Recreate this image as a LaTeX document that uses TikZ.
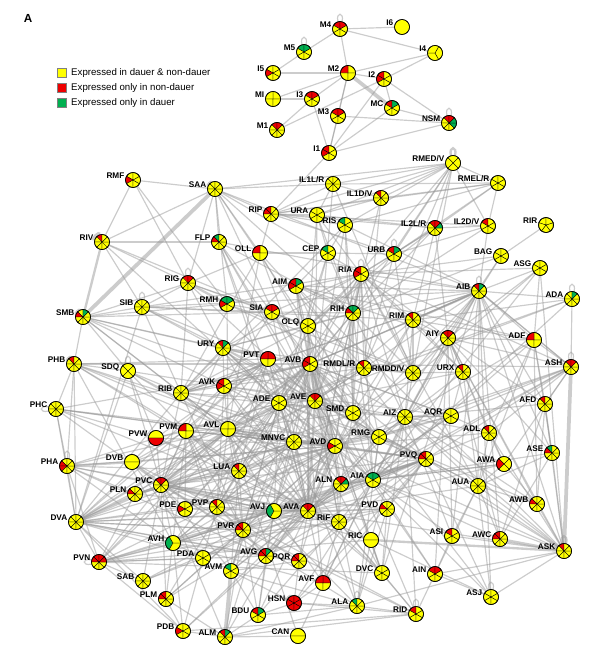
\documentclass[tikz,border=0pt]{standalone}
\usepackage{fontspec}
\setmainfont{Liberation Sans}
\usetikzlibrary{calc}
\definecolor{cY}{RGB}{255,255,0}
\definecolor{cR}{RGB}{238,0,0}
\definecolor{cG}{RGB}{0,176,80}

\pgfdeclarelayer{edges}
\pgfsetlayers{edges,main}

% name, position, label, start angle, sectors, sector colours
\newcommand{\neuron}[6]{%
  \node[cell] (#1) at (#2) {};
  \ifnum#5>1
  \foreach \col [count=\i from 0] in {#6}{
    \pgfmathsetmacro{\ang}{#4+\i*360/#5}
    \filldraw[fill=\col, draw=black, line width=0.3pt] (#1.center) -- ++(\ang:0.225cm)
      arc[start angle=\ang, delta angle=360/#5, radius=0.225cm] -- cycle;
  }
  \fi
  \draw[line width=0.5pt] (#1.center) circle[radius=0.225cm];
  \node[lbl, anchor=base east] (#1-l) at ($(#1.center)+(-8.5,-1.5)$) {#3};
}

\begin{document}
\begin{tikzpicture}[x=0.03cm, y=-0.03cm,
  cell/.style={circle, minimum size=0.45cm, inner sep=0pt, fill=cY, draw=black, line width=0.5pt},
  lbl/.style={font=\fontsize{7}{8}\selectfont\bfseries, inner sep=0pt},
  syn/.style={draw=black!40, draw opacity=0.5, line width=1pt},
  synmid/.style={syn, line width=2pt},
  synthick/.style={syn, line width=3.2pt},
  every loop/.style={min distance=3mm, looseness=6},
  keybox/.style={minimum size=0.27cm, inner sep=0pt, draw=black!50, line width=0.3pt},
  keytext/.style={font=\fontsize{8.25}{10}\selectfont, inner sep=0pt, anchor=west}
]
\useasboundingbox (0,0) rectangle (607,650);

\node[font=\fontsize{10}{12}\selectfont\bfseries, inner sep=0pt] (panel) at (28,18) {A};

% legend
\node[keybox, fill=cY] (key1) at (62,73) {};
\node[keybox, fill=cR] (key2) at (62,88) {};
\node[keybox, fill=cG] (key3) at (62,103) {};
\node[keytext] (key1-t) at (71,73) {Expressed in dauer \& non-dauer};
\node[keytext] (key2-t) at (71,88) {Expressed only in non-dauer};
\node[keytext] (key3-t) at (71,103) {Expressed only in dauer};

% pharynx
\neuron{M4}{340,29}{M4}{90}{6}{cR,cY,cY,cY,cY,cR}
\neuron{I6}{402,27}{I6}{90}{1}{cY}
\neuron{M5}{304,52}{M5}{90}{6}{cG,cY,cY,cY,cY,cG}
\neuron{I5}{273,73}{I5}{90}{6}{cY,cR,cY,cY,cY,cY}
\neuron{M2}{348,73}{M2}{0}{4}{cY,cR,cY,cY}
\neuron{I2}{384,79}{I2}{90}{6}{cR,cR,cY,cY,cY,cY}
\neuron{MI}{273,99}{MI}{0}{4}{cY,cY,cY,cY}
\neuron{I3}{312,99}{I3}{90}{6}{cR,cY,cY,cY,cY,cR}
\neuron{MC}{392,108}{MC}{90}{6}{cR,cY,cY,cY,cY,cG}
\neuron{M3}{338,116}{M3}{90}{6}{cR,cY,cY,cY,cY,cR}
\neuron{M1}{277,130}{M1}{90}{8}{cR,cY,cY,cY,cY,cY,cY,cR}
\neuron{I1}{329,153}{I1}{90}{6}{cR,cR,cY,cY,cY,cY}
\neuron{I4}{435,53}{I4}{180}{3}{cY,cY,cY}
\neuron{NSM}{449,123}{NSM}{90}{8}{cR,cY,cY,cY,cY,cG,cG,cR}

% head
\neuron{RMEDV}{453,163}{RMED/V}{45}{4}{cY,cY,cY,cY}
\neuron{RMELR}{498,183}{RMEL/R}{90}{6}{cY,cY,cY,cY,cY,cY}
\neuron{IL1LR}{333,184}{IL1L/R}{90}{8}{cY,cY,cY,cY,cY,cY,cY,cY}
\neuron{IL1DV}{381,198}{IL1D/V}{90}{8}{cR,cY,cY,cY,cY,cY,cY,cY}
\neuron{IL2LR}{435,228}{IL2L/R}{90}{8}{cR,cY,cY,cY,cY,cY,cG,cR}
\neuron{IL2DV}{488,226}{IL2D/V}{90}{6}{cR,cY,cY,cY,cY,cY}
\neuron{RIR}{546,225}{RIR}{90}{5}{cY,cY,cY,cY,cY}
\neuron{BAG}{501,256}{BAG}{90}{6}{cY,cY,cY,cY,cY,cY}
\neuron{ASG}{540,268}{ASG}{90}{6}{cY,cY,cY,cY,cY,cY}
\neuron{AIB}{479,291}{AIB}{90}{8}{cR,cY,cY,cY,cY,cY,cY,cG}
\neuron{ADA}{572,299}{ADA}{90}{8}{cY,cY,cY,cY,cY,cY,cY,cG}
\neuron{RMF}{133,180}{RMF}{90}{6}{cY,cR,cY,cY,cY,cY}
\neuron{SAA}{215,189}{SAA}{90}{8}{cY,cY,cY,cY,cY,cY,cY,cY}
\neuron{RIV}{102,242}{RIV}{90}{8}{cR,cY,cY,cY,cY,cY,cY,cY}
\neuron{RIP}{271,214}{RIP}{90}{8}{cR,cR,cY,cY,cY,cY,cY,cY}
\neuron{URA}{317,215}{URA}{90}{6}{cY,cY,cY,cY,cY,cY}
\neuron{RIS}{345,225}{RIS}{90}{6}{cG,cY,cY,cY,cY,cY}
\neuron{FLP}{219,242}{FLP}{90}{8}{cG,cR,cY,cY,cY,cY,cY,cY}
\neuron{OLL}{260,253}{OLL}{0}{4}{cY,cR,cY,cY}
\neuron{CEP}{328,253}{CEP}{90}{6}{cG,cY,cY,cY,cY,cY}
\neuron{URB}{394,254}{URB}{90}{6}{cR,cY,cY,cY,cY,cG}
\neuron{RIA}{361,274}{RIA}{90}{6}{cR,cR,cY,cY,cY,cY}
\neuron{AIM}{296,286}{AIM}{90}{6}{cR,cR,cY,cY,cY,cG}
\neuron{RMH}{227,304}{RMH}{90}{6}{cG,cR,cY,cY,cY,cG}
\neuron{SIA}{272,312}{SIA}{90}{6}{cR,cY,cY,cY,cY,cR}
\neuron{RIH}{353,313}{RIH}{90}{8}{cG,cR,cY,cY,cY,cY,cY,cG}
\neuron{RIM}{413,320}{RIM}{90}{8}{cR,cY,cY,cY,cY,cY,cY,cY}
\neuron{OLQ}{308,326}{OLQ}{90}{6}{cY,cY,cY,cY,cY,cY}
\neuron{RIG}{188,283}{RIG}{90}{8}{cR,cY,cY,cY,cY,cY,cY,cR}
\neuron{SIB}{142,307}{SIB}{90}{8}{cY,cY,cY,cY,cY,cY,cY,cY}
\neuron{SMB}{83,317}{SMB}{90}{8}{cY,cR,cY,cY,cY,cY,cY,cG}

% body
\neuron{PHB}{74,364}{PHB}{90}{8}{cR,cY,cY,cY,cY,cY,cY,cY}
\neuron{SDQ}{128,371}{SDQ}{45}{4}{cY,cY,cY,cY}
\neuron{RIB}{181,393}{RIB}{90}{8}{cY,cY,cY,cY,cY,cY,cY,cY}
\neuron{PHC}{56,409}{PHC}{90}{8}{cY,cY,cY,cY,cY,cY,cY,cY}
\neuron{URY}{223,348}{URY}{90}{8}{cR,cY,cY,cY,cY,cY,cY,cG}
\neuron{PVT}{268,359}{PVT}{0}{4}{cR,cR,cY,cY}
\neuron{AVB}{310,364}{AVB}{90}{6}{cR,cR,cY,cY,cY,cY}
\neuron{RMDLR}{364,368}{RMDL/R}{90}{8}{cR,cY,cY,cY,cY,cY,cY,cY}
\neuron{RMDDV}{413,373}{RMDD/V}{90}{8}{cY,cY,cY,cY,cY,cY,cY,cY}
\neuron{AVK}{224,386}{AVK}{90}{6}{cR,cR,cY,cY,cY,cY}
\neuron{ADE}{279,403}{ADE}{90}{6}{cY,cY,cY,cY,cY,cY}
\neuron{AVE}{315,401}{AVE}{90}{8}{cR,cY,cY,cY,cY,cY,cY,cR}
\neuron{SMD}{353,413}{SMD}{90}{6}{cY,cY,cY,cY,cY,cY}
\neuron{AIZ}{405,417}{AIZ}{90}{8}{cY,cY,cY,cY,cY,cY,cY,cY}
\neuron{AIY}{448,338}{AIY}{90}{8}{cR,cY,cY,cY,cY,cY,cY,cR}
\neuron{ADF}{534,340}{ADF}{0}{4}{cY,cR,cY,cY}
\neuron{URX}{463,372}{URX}{90}{8}{cR,cY,cY,cY,cY,cY,cY,cY}
\neuron{ASH}{571,367}{ASH}{90}{8}{cR,cY,cY,cY,cY,cY,cY,cR}
\neuron{AFD}{545,404}{AFD}{90}{8}{cR,cY,cY,cY,cY,cY,cY,cY}
\neuron{AQR}{451,416}{AQR}{90}{6}{cY,cY,cY,cY,cY,cY}
\neuron{AVL}{228,429}{AVL}{0}{4}{cY,cY,cY,cY}
\neuron{MNVC}{294,442}{MNVC}{90}{8}{cY,cY,cY,cY,cY,cY,cY,cY}
\neuron{AVD}{335,446}{AVD}{90}{6}{cY,cR,cY,cY,cY,cY}
\neuron{RMG}{379,437}{RMG}{90}{6}{cY,cY,cY,cY,cY,cY}
\neuron{ADL}{489,433}{ADL}{90}{8}{cR,cY,cY,cY,cY,cY,cY,cY}
\neuron{ASE}{552,453}{ASE}{90}{8}{cG,cR,cY,cY,cY,cY,cY,cY}
\neuron{PVM}{186,431}{PVM}{0}{4}{cY,cR,cY,cY}
\neuron{PVW}{156,438}{PVW}{0}{2}{cY,cR}
\neuron{PHA}{67,466}{PHA}{90}{8}{cY,cR,cR,cY,cY,cY,cY,cY}
\neuron{DVB}{132,462}{DVB}{0}{2}{cY,cY}
\neuron{LUA}{239,471}{LUA}{90}{8}{cR,cY,cY,cY,cY,cY,cY,cY}
\neuron{ALN}{341,484}{ALN}{90}{8}{cR,cY,cY,cY,cY,cY,cG,cR}
\neuron{AIA}{373,480}{AIA}{90}{6}{cG,cY,cY,cY,cY,cG}
\neuron{PVQ}{426,459}{PVQ}{90}{8}{cR,cR,cY,cY,cY,cY,cY,cY}
\neuron{AWA}{504,464}{AWA}{45}{4}{cY,cR,cY,cY}
\neuron{AUA}{478,486}{AUA}{90}{8}{cY,cY,cY,cY,cY,cY,cY,cY}
\neuron{PVC}{161,485}{PVC}{90}{8}{cR,cY,cY,cY,cY,cY,cY,cR}
\neuron{PLN}{135,494}{PLN}{90}{8}{cY,cR,cY,cY,cY,cY,cY,cY}
\neuron{PDE}{185,509}{PDE}{90}{6}{cY,cR,cY,cY,cY,cY}
\neuron{DVA}{76,522}{DVA}{90}{8}{cY,cY,cY,cY,cY,cY,cY,cY}
\neuron{AVH}{173,543}{AVH}{120}{3}{cG,cY,cY}
\neuron{PDA}{203,558}{PDA}{90}{6}{cY,cY,cY,cY,cY,cY}
\neuron{PVN}{99,562}{PVN}{90}{8}{cR,cR,cY,cY,cY,cY,cR,cR}
\neuron{SAB}{143,581}{SAB}{90}{8}{cY,cY,cY,cY,cY,cY,cY,cY}
\neuron{PLM}{166,599}{PLM}{90}{8}{cR,cR,cY,cY,cY,cY,cY,cY}
\neuron{PDB}{183,631}{PDB}{90}{6}{cY,cR,cY,cY,cY,cY}
\neuron{PVP}{217,507}{PVP}{90}{8}{cR,cY,cY,cY,cY,cY,cY,cY}
\neuron{AVJ}{274,511}{AVJ}{120}{3}{cG,cY,cY}
\neuron{AVA}{308,511}{AVA}{90}{8}{cR,cY,cY,cY,cY,cY,cY,cR}
\neuron{PVD}{387,509}{PVD}{90}{8}{cY,cR,cY,cY,cY,cY,cY,cY}
\neuron{RIF}{339,522}{RIF}{90}{8}{cY,cY,cY,cY,cY,cY,cY,cY}
\neuron{PVR}{243,530}{PVR}{90}{8}{cR,cR,cY,cY,cY,cY,cY,cY}
\neuron{RIC}{371,540}{RIC}{0}{2}{cY,cY}
\neuron{AVG}{266,556}{AVG}{90}{8}{cR,cR,cY,cY,cY,cY,cY,cG}
\neuron{PQR}{299,561}{PQR}{90}{8}{cR,cR,cY,cY,cY,cY,cY,cY}
\neuron{AVM}{231,571}{AVM}{90}{6}{cG,cY,cY,cY,cY,cY}
\neuron{DVC}{382,573}{DVC}{90}{6}{cY,cY,cY,cY,cY,cY}
\neuron{AVF}{323,583}{AVF}{0}{4}{cR,cR,cY,cY}
\neuron{HSN}{294,603}{HSN}{90}{6}{cR,cR,cR,cR,cR,cR}
\neuron{ALA}{357,606}{ALA}{90}{8}{cG,cY,cY,cY,cY,cY,cY,cY}
\neuron{BDU}{258,615}{BDU}{90}{6}{cR,cY,cY,cY,cY,cG}
\neuron{ALM}{225,637}{ALM}{90}{8}{cR,cY,cY,cY,cY,cY,cY,cG}
\neuron{CAN}{298,636}{CAN}{0}{2}{cY,cY}
\neuron{AWB}{537,504}{AWB}{90}{8}{cY,cR,cY,cY,cY,cY,cY,cY}
\neuron{ASI}{452,536}{ASI}{90}{6}{cR,cY,cY,cY,cY,cY}
\neuron{AWC}{500,539}{AWC}{90}{8}{cR,cR,cY,cY,cY,cY,cY,cY}
\neuron{ASK}{564,551}{ASK}{90}{8}{cR,cY,cY,cY,cY,cY,cY,cY}
\neuron{AIN}{435,574}{AIN}{90}{6}{cR,cY,cY,cY,cY,cR}
\neuron{ASJ}{491,597}{ASJ}{90}{6}{cY,cY,cY,cY,cY,cY}
\neuron{RID}{416,614}{RID}{90}{6}{cR,cY,cY,cY,cY,cY}

% connections
\begin{pgfonlayer}{edges}
\foreach \a/\b in {M4/I6,M4/M5,M4/M2,M4/I4,M5/I5,I5/M2,M2/I2,M2/M3,M2/I3,MI/I3,MI/M2,I3/M1,M1/I2,M3/NSM,M3/I1,M2/I1,I1/I2,I1/MC,I1/NSM,I2/I4,I2/NSM,MC/NSM,MC/I2,I1/RIP,M2/I4,I3/I1,
  RMEDV/RMELR,RMEDV/IL1LR,RMEDV/IL1DV,RMEDV/URA,RMEDV/RIP,RMEDV/SAA,RMEDV/RIS,RMEDV/IL2DV,RMEDV/URB,RMEDV/RMDLR,RMEDV/AVL,RMEDV/IL2LR,RMEDV/RIH,RMEDV/RMDDV,
  RMELR/IL1LR,RMELR/IL2LR,RMELR/RIP,RMELR/URB,RMELR/IL1DV,RMELR/IL2DV,RMELR/RIS,
  IL1LR/URA,IL1LR/RIP,IL1LR/SAA,IL1LR/IL1DV,IL1LR/RMDDV,IL1LR/AVE,IL1DV/RIP,IL1DV/URA,IL1DV/RMDLR,IL1DV/RIH,
  IL2LR/URB,IL2LR/RIH,IL2LR/RIA,IL2LR/URA,IL2LR/IL2DV,IL2LR/RIP,IL2LR/AIY,IL2LR/RIM,IL2LR/OLQ,IL2DV/URB,IL2DV/RIH,IL2DV/RIP,IL2DV/AIB,
  RIR/BAG,BAG/RIH,BAG/AIB,BAG/RIA,BAG/RMG,ASG/AIB,ASG/AIA,ASG/AVD,ASG/RIA,ASG/ASK,ASG/AIY,ASG/ADF,ADA/AIB,ADA/RIM,ADA/AIA,ADA/ASH,ADA/AVL,
  RMF/SAA,RMF/RIG,RMF/RIV,RMF/RMH,SAA/RIV,SAA/RIP,SAA/RIA,SAA/RIH,SAA/OLL,SAA/RIG,SAA/FLP,SAA/RMH,SAA/AIB,SAA/AVE,SAA/OLQ,
  RIV/SIB,RIV/RIG,RIV/FLP,RIV/SIA,RIV/ADE,
  FLP/AVA,FLP/AVD,FLP/AVB,FLP/ADE,FLP/AIB,FLP/AVE,FLP/RIH,
  RIP/URA,RIP/RIS,RIP/OLL,URA/RIH,URA/RIA,URA/OLQ,URA/AVE,RIS/CEP,RIS/AIB,RIS/SMD,RIS/AVE,RIS/RIH,
  CEP/URA,CEP/RIH,CEP/ADE,CEP/OLQ,CEP/URB,CEP/AIM,
  OLL/RMDLR,OLL/AVE,OLL/RIB,OLL/SMD,OLL/AVL,OLL/CEP,OLL/RIG,
  URB/RIA,URB/OLQ,URB/RMDLR,URB/RIP,URB/RMDDV,
  RIA/RMDLR,RIA/RMDDV,RIA/SMD,RIA/RMH,RIA/SIA,RIA/AIZ,RIA/RIM,RIA/AVE,RIA/OLQ,RIA/AIB,RIA/AIY,
  AIM/AVE,AIM/AVB,AIM/ADF,AIM/AVF,AIM/RIH,AIM/ASK,AIM/AIY,AIM/AIB,AIM/PVQ,
  RMH/SIA,RMH/SMB,RMH/RMDLR,RMH/AVL,RMH/RMDDV,
  RIG/SIB,RIG/RIB,RIG/AVE,RIG/SIA,RIG/URY,RIG/OLQ,RIG/SMB,
  SIA/SIB,SIA/SMB,SIA/AVK,SIA/RIB,SIA/SMD,SIA/RMDDV,
  SIB/SMB,SIB/RIB,SIB/SMD,SIB/AVE,SIB/AIB,SIB/RIM,SIB/PVT,SIB/RIA,
  SMB/PHB,SMB/SDQ,SMB/AVK,SMB/SMD,SMB/AVL,SMB/RIB,SMB/PVT,SMB/URY,
  RIH/AIB,RIH/AVE,RIH/OLQ,RIH/AVB,RIH/SMD,RIH/AIA,RIH/RMDDV,RIH/AIZ,RIH/ADE,RIH/URY,
  RIM/AIB,RIM/AIZ,RIM/AIY,RIM/AVA,RIM/AVB,RIM/ADF,RIM/RMDDV,RIM/SMD,RIM/URX,RIM/AVE,
  OLQ/URY,OLQ/RMG,OLQ/AVE,OLQ/RIB,OLQ/SIA,OLQ/AVB,
  AIB/AIY,AIB/AIZ,AIB/ADF,AIB/AVB,AIB/RIB,AIB/AVE,AIB/RMDDV,AIB/ASH,AIB/AFD,
  AIY/AIZ,AIY/ADF,AIY/AFD,AIY/URX,AIY/ASK,AIY/RMDDV,
  ADF/ASH,ADF/AIZ,ADF/AIA,ADF/AWB,ADF/AUA,ADF/AFD,ADF/ASE,ADF/ADL,
  ASH/AVD,ASH/AVB,ASH/RIA,ASH/AIA,ASH/AIB,ASH/ADL,ASH/AWA,ASH/AQR,ASH/AVA,ASH/AFD,ASH/AIY,ASH/RMG,ASH/PVQ,
  URX/AUA,URX/RMG,URX/ADL,URX/RIA,URX/AVE,URX/AQR,
  AFD/AWB,AFD/AWC,AFD/ASE,AFD/ASK,AFD/AIZ,
  AQR/PVQ,AQR/RMG,AQR/AVD,AQR/ADL,AQR/AVB,AQR/AVA,AQR/AIZ,AQR/AVK,
  ADL/AIA,ADL/AWA,ADL/AVD,ADL/AUA,ADL/ASK,ADL/AIZ,
  ASE/AIA,ASE/ASK,ASE/AWC,ASE/AIB,ASE/AIY,ASE/AUA,
  AWA/AIZ,AWA/AUA,AWA/AVA,AWA/AWB,AWA/AIA,AWA/AIY,
  AWB/AUA,AWB/ASK,AWB/AIZ,AWB/AIY,
  AWC/AIB,AWC/AIA,AWC/AUA,AWC/AIY,
  AUA/AIZ,AUA/AVE,AUA/RIA,AUA/ASI,AUA/PVQ,AUA/ASK,AUA/AVA,AUA/AIB,
  ASI/AIA,ASI/AIY,ASI/AIN,ASI/AIB,ASI/AIZ,
  AIN/AIA,AIN/ASK,AIN/RID,AIN/ASJ,AIN/AUA,AIN/AIY,AIN/AVE,
  ASJ/AVB,ASJ/AUA,ASJ/PVQ,ASJ/ASK,ASJ/AIA,ASJ/AIB,
  ASK/AIA,ASK/AIB,ASK/AVD,ASK/PVQ,ASK/RMG,ASK/ASI,ASK/AIZ,ASK/AVA,
  RID/ALA,RID/AVB,RID/DVC,RID/PVR,RID/ALM,RID/AVK,RID/AIZ,
  ALA/AVE,ALA/AVM,ALA/PVD,ALA/RMG,ALA/ASK,ALA/HSN,ALA/BDU,ALA/ADE,ALA/PVC,
  CAN/ALM,CAN/AIA,CAN/AVL,
  HSN/AVF,HSN/AVM,HSN/PQR,HSN/BDU,HSN/RID,HSN/AIA,HSN/PVQ,
  AVF/AVJ,AVF/AVH,AVF/RIF,AVF/PVQ,AVF/AIA,AVF/AVA,
  DVC/AVA,DVC/AVB,DVC/AIB,DVC/RIC,DVC/AVD,DVC/PVT,DVC/AVL,DVC/RIF,DVC/PVD,DVC/AIZ,
  RIC/AVA,RIC/AVB,RIC/AIZ,RIC/ALA,RIC/ASJ,RIC/PVC,
  PVD/PVC,PVD/PVR,PVD/RIF,PVD/AVA,PVD/DVA,
  RIF/AVA,RIF/AVB,RIF/AVH,RIF/PVP,RIF/AIA,RIF/ALN,RIF/AVD,
  PQR/AVG,PQR/AVA,PQR/AVD,PQR/PVP,PQR/AVH,PQR/PVQ,PQR/AVM,PQR/DVA,
  AVG/AVJ,AVG/PVR,AVG/PVQ,AVG/RIF,AVG/PVP,AVG/DVB,AVG/PHA,AVG/DVA,
  AVM/AVB,AVM/ADE,AVM/AVD,AVM/PVR,AVM/AVA,AVM/PVC,AVM/BDU,AVM/PVM,
  BDU/AVJ,BDU/ALM,BDU/PVR,BDU/AVA,BDU/AVG,BDU/RIF,
  ALM/PDB,ALM/PVC,ALM/AVD,ALM/PVR,ALM/AVB,ALM/ALA,
  PDB/AVG,PDB/RID,PDB/PVN,PDB/AVH,PDB/DVA,PDB/PDA,PDB/AVA,
  PLM/AVD,PLM/PVC,PLM/PVR,PLM/AVA,PLM/ALM,PLM/PVM,PLM/AVB,PLM/PDB,
  SAB/AVA,SAB/PVN,SAB/PDA,SAB/AVJ,SAB/PVC,SAB/DVA,
  PVN/PVC,PVN/PLN,PVN/AVA,PVN/DVA,PVN/PVQ,PVN/AVJ,PVN/AVL,PVN/AVG,PVN/PHA,PVN/DVC,PVN/AVH,PVN/PDA,PVN/RIF,PVN/RIC,PVN/AVD,PVN/AVB,
  PDA/AVH,PDA/AVJ,PDA/AVA,PDA/DVA,PDA/PVP,
  AVH/AVJ,AVH/PVP,AVH/ADE,AVH/PVC,AVH/AVD,AVH/MNVC,AVH/PHA,AVH/DVA,AVH/AIA,
  AVJ/AVA,AVJ/AVD,AVJ/PVC,AVJ/AVB,AVJ/AVL,AVJ/PVQ,AVJ/ADE,AVJ/MNVC,AVJ/AVE,
  AVA/AVB,AVA/AIA,AVA/ALN,AVA/PVP,AVA/ADE,AVA/PVQ,AVA/PVR,AVA/LUA,AVA/SMD,AVA/RMG,AVA/AVL,AVA/PVM,
  AVA/PVT,AVA/URY,AVA/AVK,AVA/RIB,AVA/SIA,AVA/OLQ,AVA/RIH,AVA/AIZ,AVA/AQR,
  AVB/AVK,AVB/URY,AVB/RIB,AVB/AIZ,AVB/RMG,AVB/AIA,AVB/AQR,
  AVD/AVK,AVD/URY,AVD/RIB,AVD/PVM,AVD/AIZ,AVD/AIB,
  AVE/AVK,AVE/PVT,AVE/URY,AVE/AIZ,AVE/RMG,
  PVR/PVC,PVR/PVP,PVR/AVL,PVR/AVD,PVR/RIB,PVR/PVM,PVR/DVA,PVR/ADE,PVR/MNVC,
  PVP/PVC,PVP/PDE,PVP/AVL,PVP/AVK,PVP/PVT,PVP/PVM,PVP/LUA,PVP/AVD,PVP/AVB,PVP/ADE,PVP/MNVC,
  PDE/PVC,PDE/DVA,PDE/AVD,PDE/AVA,PDE/PVM,PDE/AVB,PDE/MNVC,PDE/ADE,
  PLN/PVC,PLN/AVL,PLN/DVA,PLN/AVA,PLN/PHA,PLN/LUA,PLN/AVD,PLN/MNVC,
  PVC/AVD,PVC/AVE,PVC/LUA,PVC/PVW,PVC/PVM,PVC/AVL,PVC/MNVC,PVC/DVB,PVC/ADE,PVC/AVJ,
  PVC/PVT,PVC/AVK,PVC/RIB,PVC/URY,PVC/SMD,
  DVA/PHA,DVA/PHC,DVA/AVL,DVA/PVT,DVA/ADE,DVA/AVB,DVA/MNVC,DVA/PVR,DVA/AVD,DVA/SIB,DVA/RIB,DVA/AVA,DVA/AVE,DVA/AIA,
  PHA/PVC,PHA/PHB,PHA/PVW,PHA/LUA,PHA/AVD,PHA/AVL,PHA/AVA,
  PHB/PHC,PHB/SDQ,PHB/AVA,PHB/AVD,PHB/DVA,PHB/PVM,PHB/MNVC,PHB/PVT,PHB/AVL,PHB/AVH,PHB/AVB,
  PHC/PHA,PHC/AVL,PHC/PVQ,PHC/PVC,PHC/AVD,PHC/PVW,PHC/AVA,PHC/AVB,
  SDQ/PVW,SDQ/AVL,SDQ/RIB,SDQ/AVK,SDQ/PVC,SDQ/ALA,SDQ/DVA,
  PVW/DVB,PVW/AVA,PVW/AVD,PVW/PVM,PVW/PVT,
  DVB/AVL,DVB/PVM,DVB/AVD,DVB/PDA,DVB/RID,
  PVM/AVL,PVM/PVT,PVM/AVD,
  RIB/AVK,RIB/AIB,RIB/AVE,RIB/PVT,RIB/AVL,RIB/URY,RIB/AVB,RIB/SMD,RIB/RIS,
  AVK/AVL,AVK/ADE,AVK/PVT,AVK/URY,AVK/DVA,AVK/RMDLR,
  URY/PVT,URY/RIA,URY/RMDDV,URY/ADE,
  PVT/AVB,PVT/AVL,PVT/AVD,PVT/RMG,PVT/MNVC,
  AVL/ADE,AVL/AVD,AVL/MNVC,AVL/AVB,AVL/SMD,AVL/RMG,AVL/AIA,AVL/ALN,
  ADE/AVE,ADE/AVD,ADE/AVB,ADE/ADA,ADE/MNVC,ADE/RMG,ADE/RIA,ADE/AIA,ADE/URY,ADE/PVM,ADE/SMD,ADE/AIZ,ADE/PVW,
  AVE/AVB,AVE/SMD,AVE/RMDLR,
  AVB/AVD,AVB/RMDLR,AVB/AIB,AVB/SMD,
  RMDLR/SMD,RMDLR/RMG,RMDLR/AVL,
  RMDDV/SMD,RMDDV/AIZ,RMDDV/URX,
  SMD/AVD,SMD/RMG,SMD/AIZ,SMD/AIA,SMD/ALN,
  AIZ/AIA,AIZ/RMG,AIZ/AQR,
  MNVC/AVD,MNVC/AVB,MNVC/AVA,MNVC/LUA,MNVC/AVE,MNVC/PVM,MNVC/SMD,MNVC/RMG,MNVC/AIA,
  AVD/ALN,AVD/RMG,AVD/AIA,AVD/PVQ,AVD/LUA,
  RMG/AIA,RMG/AWB,RMG/ALN,RMG/PVQ,
  LUA/AVE,LUA/PVR,LUA/AVL,LUA/PVW,LUA/PVM,LUA/PVT,LUA/ADE,
  RIH/AVD,RIH/AVA,RIH/SIA,RIA/AVD,RIA/AVB,AIM/AVD,AIM/SMD,OLQ/ADE,OLQ/AVD,
  AVG/AVD,AVG/ALN,AVM/LUA,PVQ/AVE,PVQ/ADE,PVQ/MNVC,AIA/AVE,AIA/RIA,ALN/AVE,ALN/ADE,
  ALN/AIA,ALN/AVB,ALN/PVQ,ALN/AVM,ALN/SDQ,
  AIA/AIB,AIA/AIY,AIA/AWA,
  PVQ/AIA,PVQ/PVC,PVQ/AVL,PVQ/PVR,PVQ/AVB,PVQ/PVD}
  \draw[syn] (\a) -- (\b);
\foreach \a/\b in {RIV/SMB,AVA/AVD,AVA/PVC,AVB/PVC,AVE/AVD,AVA/AVE,RIC/ASK,PHA/DVB,RIG/RMH,RIA/RIH,AVH/PVQ,AIB/RIM,DVA/PVC,AVG/AVA,ASK/AWC,RMDLR/RMDDV}
  \draw[synmid] (\a) -- (\b);
\foreach \a/\b in {SMB/SAA,M2/MC,ASH/ASK,AVM/ALM}
  \draw[synthick] (\a) -- (\b);
% self connections
\foreach \n in {M4,M5,NSM,PHA,SIB,RIG,ASJ,RID,AIB,SDQ,RIA,RIH,URB,ADA,ASH,ALA}
  \draw[syn] (\n) to[loop above] (\n);
\foreach \n in {PHB,SMB,HSN,SAA}
  \draw[syn] (\n) to[loop, out=160, in=110] (\n);
\foreach \n in {PHC,PVN}
  \draw[syn] (\n) to[loop left] (\n);
\draw[synmid] (RMEDV) to[loop above] (RMEDV);
\draw[synmid] (ASK) to[loop above] (ASK);
\draw[synthick] (RIV) to[loop, out=165, in=105] (RIV);
\end{pgfonlayer}
\end{tikzpicture}
\end{document}
